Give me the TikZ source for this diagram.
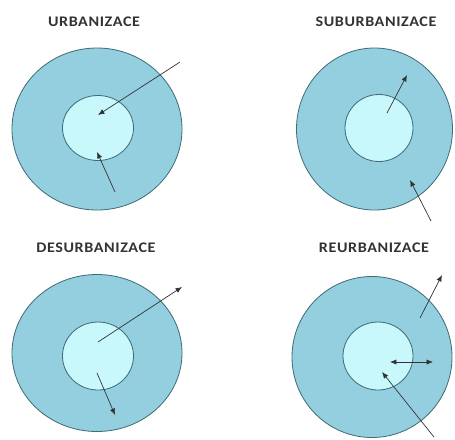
\documentclass[tikz,border=0pt]{standalone}
\usepackage{fontspec}
\setmainfont{Carlito}
\newfontfamily\headfont[FakeStretch=1.1,LetterSpace=4]{Carlito}
\usepackage{xcolor}
\usetikzlibrary{arrows.meta,shapes.geometric}
\definecolor{ringblue}{HTML}{93CFDF}
\definecolor{coreblue}{HTML}{C8F8FC}
\definecolor{rimline}{HTML}{3F6C76}
\definecolor{arrowgray}{HTML}{333333}

\begin{document}
\begin{tikzpicture}[
  x=0.03cm, y=-0.03cm,
  title/.style={font=\headfont\fontsize{12.5}{14}\selectfont\bfseries, text=black!80},
  outer/.style={draw=rimline, fill=ringblue, ellipse, inner sep=0pt, line width=0.7pt},
  core/.style={draw=rimline, fill=coreblue, ellipse, inner sep=0pt, line width=0.7pt},
  flow/.style={-{Latex[length=5.5pt,width=4.5pt]}, arrowgray, line width=0.6pt},
  both/.style={{Latex[length=5.5pt,width=4.5pt]}-{Latex[length=5.5pt,width=4.5pt]}, arrowgray, line width=0.6pt}
]
\useasboundingbox (0,0) rectangle (455,439);
% top left
\node[title] (tUrb) at (94,22) {URBANIZACE};
\node[outer, minimum width=5.1cm, minimum height=4.86cm] (urbOut) at (97,129) {};
\node[core, minimum width=2.13cm, minimum height=1.95cm] (urbIn) at (98,128) {};
\coordinate (urbA) at (180,62);
\coordinate (urbB) at (98,115);
\coordinate (urbC) at (115,192);
\coordinate (urbD) at (97,152);
\draw[flow] (urbA) -- (urbB);
\draw[flow] (urbC) -- (urbD);
% top right
\node[title] (tSub) at (376,22) {SUBURBANIZACE};
\node[outer, minimum width=4.68cm, minimum height=4.86cm] (subOut) at (374.5,129) {};
\node[core, minimum width=2.04cm, minimum height=2.01cm] (subIn) at (379,128) {};
\coordinate (subA) at (387,113);
\coordinate (subB) at (407,75);
\coordinate (subC) at (431,221);
\coordinate (subD) at (410,180);
\draw[flow] (subA) -- (subB);
\draw[flow] (subC) -- (subD);
% bottom left
\node[title] (tDes) at (96,248) {DESURBANIZACE};
\node[outer, minimum width=5.1cm, minimum height=4.71cm] (desOut) at (97,353) {};
\node[core, minimum width=2.13cm, minimum height=2.04cm] (desIn) at (98,356) {};
\coordinate (desA) at (98,342);
\coordinate (desB) at (182,287);
\coordinate (desC) at (97,373);
\coordinate (desD) at (115,415);
\draw[flow] (desA) -- (desB);
\draw[flow] (desC) -- (desD);
% bottom right
\node[title] (tReu) at (374,248) {REURBANIZACE};
\node[outer, minimum width=4.8cm, minimum height=4.83cm] (reuOut) at (372,357) {};
\node[core, minimum width=2.1cm, minimum height=2.04cm] (reuIn) at (378,356) {};
\coordinate (reuA) at (420,318);
\coordinate (reuB) at (442,275);
\coordinate (reuC) at (390,362);
\coordinate (reuD) at (433,362);
\coordinate (reuE) at (434,437);
\coordinate (reuF) at (382,372);
\draw[flow] (reuA) -- (reuB);
\draw[both] (reuC) -- (reuD);
\draw[flow] (reuE) -- (reuF);
\end{tikzpicture}
\end{document}
